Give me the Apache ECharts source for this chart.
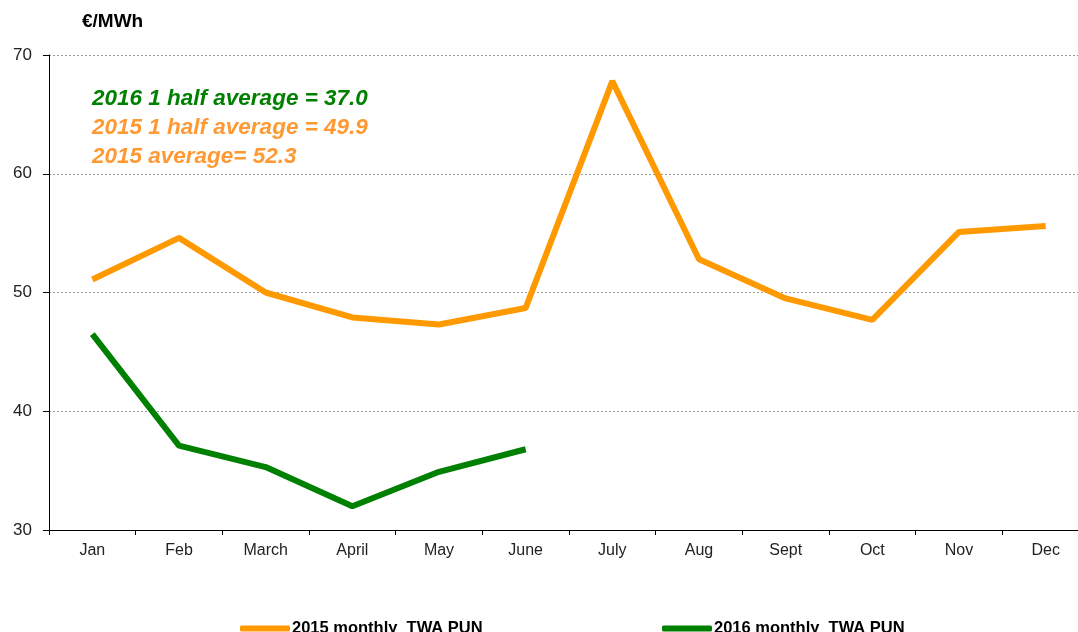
<!DOCTYPE html>
<html>
<head>
<meta charset="utf-8">
<script src="https://cdn.jsdelivr.net/npm/echarts@6/dist/echarts.min.js"></script>
<style>
  html, body { margin: 0; padding: 0; background: #fff; }
  #chartDom { width: 1078px; height: 632px; }
</style>
</head>
<body>
<div id="chartDom"></div>
<script>
// months on the x axis
var months = ['Jan', 'Feb', 'March', 'April', 'May', 'June', 'July', 'Aug', 'Sept', 'Oct', 'Nov', 'Dec'];
// monthly TWA PUN, €/MWh
var pun2015 = [51.1, 54.6, 50.0, 47.9, 47.3, 48.7, 67.8, 52.8, 49.5, 47.7, 55.1, 55.6];
var pun2016 = [46.5, 37.1, 35.3, 32.0, 34.9, 36.8];
var seriesNames = ['2015 monthly  TWA PUN', '2016 monthly  TWA PUN'];
var notes = ['2016 1 half average = 37.0', '2015 1 half average = 49.9', '2015 average= 52.3'];

var chartDom = echarts.init(document.getElementById('chartDom'));
var font = 'Liberation Sans, Arial, sans-serif';

function legendFor(name, left) {
    return {
        bottom: -10,
        left: left,
        itemWidth: 50,
        itemHeight: 6,
        icon: 'roundRect',
        textStyle: { fontFamily: font, fontSize: 16.5, fontWeight: 'bold', color: '#000', padding: [0, 0, 0, -3] },
        data: [name]
    };
}

chartDom.setOption({
    animation: false,
    textStyle: { fontFamily: font },
    grid: { left: 49, width: 1040, top: 55, height: 475, outerBoundsMode: 'none' },
    legend: [legendFor(seriesNames[0], 235), legendFor(seriesNames[1], 657)],
    graphic: [
        { type: 'text', left: 82, top: 12, style: { text: '€/MWh', font: 'bold 19px ' + font, fill: '#000' } },
        { type: 'text', left: 92, top: 87, style: { text: notes[0], font: 'italic bold 22.5px ' + font, fill: '#008000' } },
        { type: 'text', left: 92, top: 116, style: { text: notes[1], font: 'italic bold 22.5px ' + font, fill: '#FF9933' } },
        { type: 'text', left: 92, top: 145, style: { text: notes[2], font: 'italic bold 22.5px ' + font, fill: '#FF9933' } }
    ],
    xAxis: {
        type: 'category',
        data: months,
        boundaryGap: true,
        axisLine: { lineStyle: { color: '#000', width: 1 } },
        axisTick: { show: true, length: 5, lineStyle: { color: '#000' } },
        axisLabel: { color: '#222', fontSize: 16, margin: 13 }
    },
    yAxis: {
        type: 'value',
        min: 30,
        max: 70,
        interval: 10,
        axisLine: { show: true, lineStyle: { color: '#000', width: 1 } },
        axisTick: { show: true, length: 6, lineStyle: { color: '#000' } },
        axisLabel: { color: '#222', fontSize: 17, margin: 17 },
        splitLine: { lineStyle: { color: '#999', type: [2, 2], width: 1 } }
    },
    series: [
        {
            name: seriesNames[0],
            type: 'line',
            data: pun2015,
            symbol: 'none',
            color: '#FF9900',
            lineStyle: { width: 6, color: '#FF9900' }
        },
        {
            name: seriesNames[1],
            type: 'line',
            data: pun2016,
            symbol: 'none',
            color: '#008000',
            lineStyle: { width: 6, color: '#008000' }
        }
    ]
});
</script>
</body>
</html>
